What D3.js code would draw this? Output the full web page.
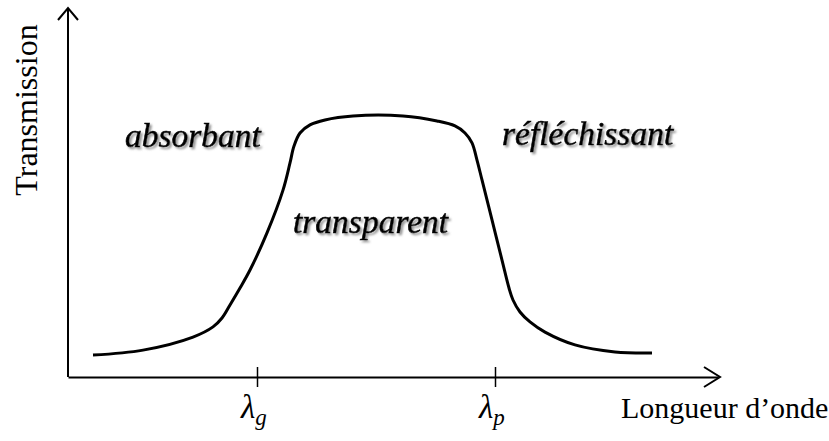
<!DOCTYPE html>
<html>
<head>
<meta charset="utf-8">
<script src="https://cdnjs.cloudflare.com/ajax/libs/d3/7.8.5/d3.min.js"></script>
<style>
  body { margin: 0; background: #fff; }
  svg text { font-family: "Liberation Serif", "Times New Roman", serif; }
</style>
</head>
<body>
<div id="chart"></div>
<script>
// wavelength (arbitrary units) and transmission (%)
var waveX = [25, 75, 125, 145, 154, 162, 172, 182, 199, 215, 222, 226, 232, 242, 257, 285, 335, 369, 387, 397, 404, 409, 414, 424, 434, 441, 445, 452, 462, 477, 507, 547, 584];
var transT = [8.4, 10.3, 15.3, 19.2, 22.6, 27.6, 34.1, 41.0, 55.2, 71.6, 82.0, 88.5, 93.5, 96.6, 98.5, 100, 100, 98.1, 96.2, 93.5, 89.7, 83.1, 75.5, 60.2, 44.8, 34.1, 29.5, 24.9, 21.1, 17.2, 12.3, 9.6, 9.2];
var tickVals = [189, 427];
var tickNames = ["g", "p"];
var regionNames = ["absorbant", "transparent", "réfléchissant"];
var regionX = [57, 225, 434];
var regionT = [88, 55, 89];

var svgWidth = 829, svgHeight = 441;
var margin = { top: 8, left: 68 };

var svg = d3.select("#chart").append("svg")
    .attr("width", svgWidth)
    .attr("height", svgHeight);

var defs = svg.append("defs");
defs.append("filter").attr("id", "shadow")
    .attr("x", "-5%").attr("y", "-20%").attr("width", "115%").attr("height", "150%")
    .append("feDropShadow")
    .attr("dx", 2).attr("dy", 2).attr("stdDeviation", 0.9)
    .attr("flood-color", "#888").attr("flood-opacity", 0.9);

var g = svg.append("g")
    .attr("transform", `translate(${margin.left}, 0)`);

var x = d3.scaleLinear().domain([0, 650]).range([0, 650]);
var y = d3.scaleLinear().domain([0, 100]).range([377, 116]);

// x axis with ticks crossing the line
var xAxis = g.append("g")
    .attr("transform", `translate(0, ${y(0)})`)
    .call(d3.axisBottom(x).tickValues(tickVals).tickFormat("").tickSize(10).tickSizeOuter(0));
xAxis.select(".domain").attr("stroke-width", 2);
xAxis.selectAll(".tick line").attr("y1", -10).attr("y2", 10).attr("stroke-width", 1.5);

// y axis
g.append("line")
    .attr("x1", 0).attr("x2", 0)
    .attr("y1", y(0)).attr("y2", margin.top + 1)
    .attr("stroke", "#000").attr("stroke-width", 2);

// arrow heads
g.append("path")
    .attr("d", `M-10,${margin.top + 12} L0,${margin.top} L10,${margin.top + 12}`)
    .attr("fill", "none").attr("stroke", "#000").attr("stroke-width", 2);
g.append("path")
    .attr("d", `M${x(650) - 14},${y(0) - 10} L${x(650) + 2},${y(0)} L${x(650) - 14},${y(0) + 10}`)
    .attr("fill", "none").attr("stroke", "#000").attr("stroke-width", 2);

// curve
var pts = waveX.map((d, i) => [d, transT[i]]);
g.append("path")
    .datum(pts)
    .attr("d", d3.line().x(d => x(d[0])).y(d => y(d[1])).curve(d3.curveCatmullRom.alpha(0.5)))
    .attr("fill", "none")
    .attr("stroke", "#000")
    .attr("stroke-width", 3);

// tick labels lambda_g, lambda_p
var tl = g.selectAll(".lam")
    .data(tickVals)
    .enter().append("text")
    .attr("class", "lam")
    .attr("x", d => x(d) - 16)
    .attr("y", 418)
    .attr("font-size", "33px")
    .attr("font-style", "italic");
tl.append("tspan").text("λ");
tl.append("tspan").attr("font-size", "23px").attr("dy", 7).text((d, i) => tickNames[i]);

// axis titles
svg.append("text")
    .attr("x", 621).attr("y", 418)
    .attr("font-size", "30px")
    .text("Longueur d’onde");

svg.append("text")
    .attr("transform", "rotate(-90)")
    .attr("x", -110).attr("y", 37)
    .attr("text-anchor", "middle")
    .attr("font-size", "32px")
    .text("Transmission");

// region labels with shadow
g.selectAll(".region")
    .data(regionNames)
    .enter().append("text")
    .attr("class", "region")
    .attr("x", (d, i) => x(regionX[i]))
    .attr("y", (d, i) => y(regionT[i]))
    .attr("font-size", "33.5px")
    .attr("font-style", "italic")
    .attr("stroke", "#000")
    .attr("stroke-width", 0.6)
    .attr("filter", "url(#shadow)")
    .text(d => d);
</script>
</body>
</html>
